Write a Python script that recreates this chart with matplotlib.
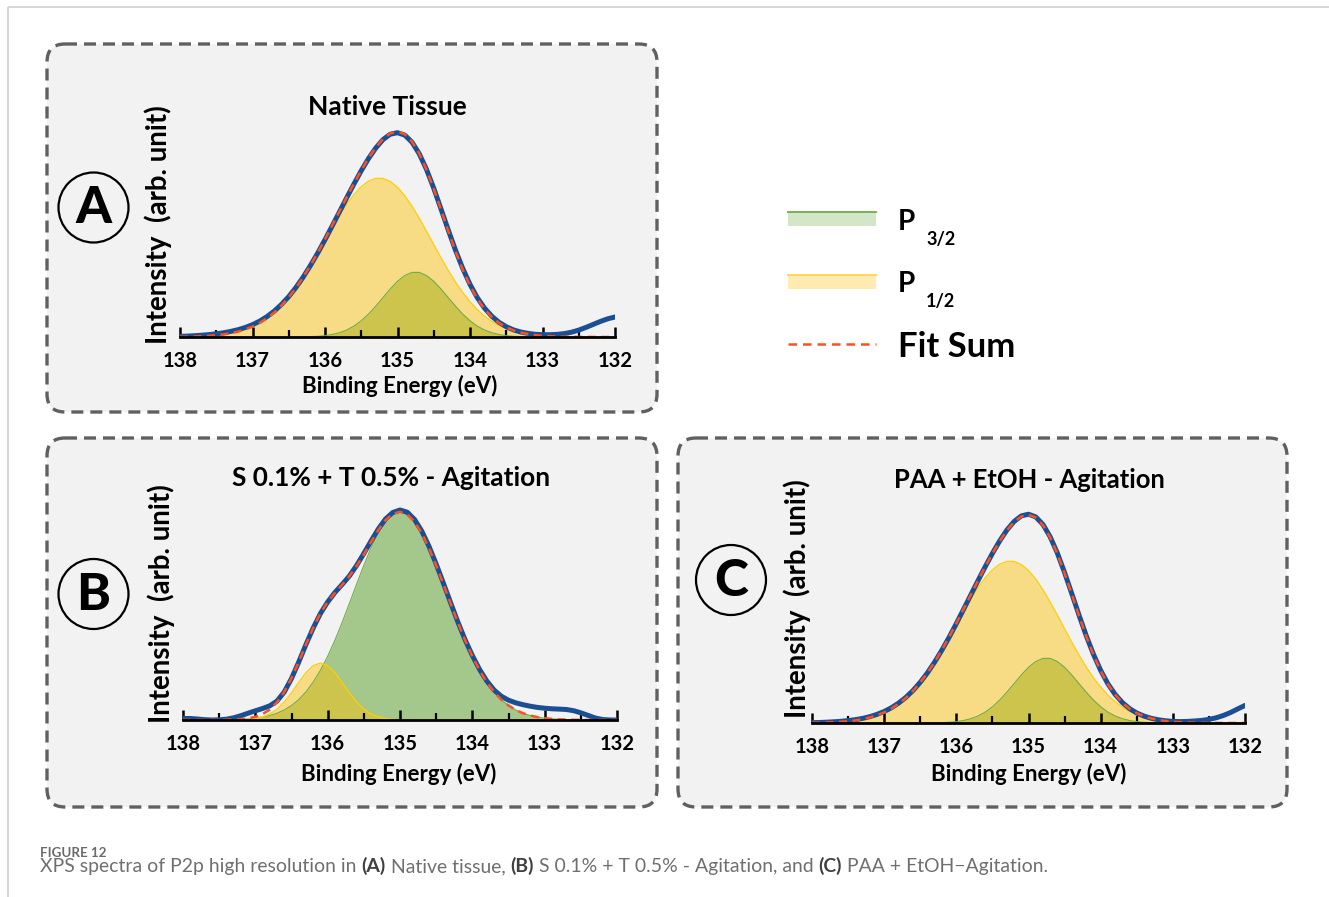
import numpy as np
import matplotlib
matplotlib.use("Agg")
import matplotlib.pyplot as plt
from matplotlib.patches import FancyBboxPatch, Circle, Rectangle

W, H, DPI = 1329, 897, 100

# Binding-energy sampling (eV), 0.1 eV steps from 138 down to 132
energy = np.linspace(138.0, 132.0, 61)

# ---- (A) Native Tissue ----
a_data = [0.6, 0.9, 1.3, 1.8, 2.4, 3.2, 4.2, 5.6, 7.3, 9.5,
          12.3, 15.9, 20.4, 25.9, 32.6, 40.4, 49.6, 60.0, 71.6, 84.0,
          97.3, 111.1, 125.2, 139.3, 153.1, 166.3, 178.4, 189.0, 197.4, 202.8,
          204.3, 201.9, 194.8, 183.2, 167.6, 148.7, 128.0, 107.0, 86.8, 68.5,
          52.6, 39.4, 28.9, 20.8, 14.7, 10.3, 7.1, 5.0, 3.6, 2.7,
          2.3, 2.3, 2.6, 3.4, 4.8, 6.9, 9.6, 12.6, 15.6, 18.2, 20.0]
a_p32 = [0.0, 0.0, 0.0, 0.0, 0.0, 0.0, 0.0, 0.0, 0.0, 0.0,
         0.0, 0.0, 0.0, 0.0, 0.0, 0.0, 0.1, 0.2, 0.4, 0.7,
         1.4, 2.5, 4.3, 7.0, 10.9, 16.2, 22.9, 30.8, 39.4, 48.0,
         55.7, 61.5, 64.6, 64.6, 61.5, 55.7, 48.0, 39.4, 30.8, 22.9,
         16.2, 10.9, 7.0, 4.3, 2.5, 1.4, 0.7, 0.4, 0.2, 0.1,
         0.0, 0.0, 0.0, 0.0, 0.0, 0.0, 0.0, 0.0, 0.0, 0.0, 0.0]
a_p12 = [0.2, 0.3, 0.5, 0.8, 1.2, 1.8, 2.6, 3.8, 5.4, 7.6,
         10.4, 14.1, 18.8, 24.5, 31.5, 39.7, 49.1, 59.7, 71.3, 83.6,
         96.4, 109.2, 121.5, 132.8, 142.6, 150.4, 155.9, 158.7, 158.6, 155.6,
         149.7, 141.3, 130.8, 118.8, 105.8, 92.4, 79.2, 66.6, 54.9, 44.4,
         35.2, 27.4, 20.9, 15.7, 11.5, 8.3, 5.9, 4.1, 2.8, 1.8,
         1.2, 0.8, 0.5, 0.3, 0.2, 0.1, 0.1, 0.0, 0.0, 0.0, 0.0]
a_fit = [0.2, 0.3, 0.5, 0.8, 1.2, 1.8, 2.6, 3.8, 5.4, 7.6,
         10.4, 14.1, 18.8, 24.5, 31.5, 39.7, 49.2, 59.9, 71.7, 84.3,
         97.8, 111.7, 125.8, 139.8, 153.5, 166.6, 178.8, 189.5, 198.0, 203.6,
         205.4, 202.8, 195.4, 183.4, 167.3, 148.1, 127.2, 106.0, 85.7, 67.3,
         51.4, 38.3, 27.9, 20.0, 14.0, 9.7, 6.6, 4.5, 3.0, 1.9,
         1.2, 0.8, 0.5, 0.3, 0.2, 0.1, 0.1, 0.0, 0.0, 0.0, 0.0]

# ---- (B) S 0.1% + T 0.5% - Agitation ----
b_data = [1.5, 1.5, 1.0, 0.3, 0.0, 0.2, 0.8, 2.2, 4.3, 6.8,
          9.2, 11.5, 14.2, 19.0, 28.0, 41.5, 58.0, 75.5, 92.0, 106.5,
          118.0, 127.5, 135.5, 144.0, 154.5, 166.5, 179.0, 191.0, 201.0, 207.5,
          210.0, 207.8, 200.6, 189.0, 173.8, 156.0, 136.8, 117.2, 98.0, 80.2,
          64.5, 50.5, 39.0, 30.0, 23.8, 19.8, 17.2, 15.3, 13.8, 12.6,
          11.8, 11.2, 10.9, 10.5, 9.3, 7.2, 4.6, 2.0, 0.5, 0.0, 0.0]
b_p32 = [0.0, 0.0, 0.0, 0.0, 0.0, 0.1, 0.2, 0.4, 0.7, 1.1,
         1.8, 2.9, 4.5, 6.8, 10.0, 14.5, 20.4, 28.1, 37.8, 49.7,
         63.7, 79.7, 97.5, 116.5, 135.8, 154.7, 172.1, 187.0, 198.4, 205.5,
         208.0, 205.5, 198.4, 187.0, 172.1, 154.7, 135.8, 116.5, 97.5, 79.7,
         63.7, 49.7, 37.8, 28.1, 20.4, 14.5, 10.0, 6.8, 4.5, 2.9,
         1.8, 1.1, 0.7, 0.4, 0.2, 0.1, 0.0, 0.0, 0.0, 0.0, 0.0]
b_p12 = [0.0, 0.0, 0.0, 0.0, 0.0, 0.0, 0.0, 0.1, 0.2, 0.6,
         1.4, 3.0, 6.0, 10.9, 18.1, 27.3, 37.7, 47.4, 54.4, 57.0,
         54.4, 47.4, 37.7, 27.3, 18.1, 10.9, 6.0, 3.0, 1.4, 0.6,
         0.2, 0.1, 0.0, 0.0, 0.0, 0.0, 0.0, 0.0, 0.0, 0.0,
         0.0, 0.0, 0.0, 0.0, 0.0, 0.0, 0.0, 0.0, 0.0, 0.0,
         0.0, 0.0, 0.0, 0.0, 0.0, 0.0, 0.0, 0.0, 0.0, 0.0, 0.0]
b_fit = [0.0, 0.0, 0.0, 0.0, 0.0, 0.1, 0.2, 0.5, 0.9, 1.7,
         3.2, 5.9, 10.5, 17.7, 28.1, 41.8, 58.1, 75.5, 92.2, 106.7,
         118.1, 127.1, 135.2, 143.8, 153.9, 165.6, 178.1, 190.0, 199.8, 206.1,
         208.2, 205.6, 198.4, 187.0, 172.1, 154.7, 135.8, 116.5, 97.5, 79.7,
         63.7, 49.7, 37.8, 28.1, 20.4, 14.5, 10.0, 6.8, 4.5, 2.9,
         1.8, 1.1, 0.7, 0.4, 0.2, 0.1, 0.0, 0.0, 0.0, 0.0, 0.0]

# ---- (C) PAA + EtOH - Agitation ----
c_data = [0.3, 0.5, 0.8, 1.2, 1.7, 2.4, 3.3, 4.6, 6.3, 8.6,
          11.5, 15.2, 19.9, 25.6, 32.5, 40.7, 50.2, 61.0, 72.9, 85.7,
          99.4, 113.6, 128.0, 142.3, 156.3, 169.6, 182.0, 192.9, 201.5, 207.1,
          208.8, 206.1, 198.5, 186.2, 169.9, 150.4, 129.3, 107.9, 87.3, 68.7,
          52.6, 39.2, 28.6, 20.5, 14.4, 10.0, 6.9, 4.7, 3.2, 2.2,
          1.6, 1.4, 1.6, 2.0, 2.6, 3.6, 5.2, 7.5, 10.5, 14.1, 17.6]
c_p32 = [0.0, 0.0, 0.0, 0.0, 0.0, 0.0, 0.0, 0.0, 0.0, 0.0,
         0.0, 0.0, 0.0, 0.0, 0.0, 0.0, 0.1, 0.2, 0.4, 0.7,
         1.4, 2.5, 4.3, 7.0, 10.9, 16.2, 22.9, 30.8, 39.4, 48.0,
         55.7, 61.5, 64.6, 64.6, 61.5, 55.7, 48.0, 39.4, 30.8, 22.9,
         16.2, 10.9, 7.0, 4.3, 2.5, 1.4, 0.7, 0.4, 0.2, 0.1,
         0.0, 0.0, 0.0, 0.0, 0.0, 0.0, 0.0, 0.0, 0.0, 0.0, 0.0]
c_p12 = [0.2, 0.3, 0.5, 0.8, 1.2, 1.8, 2.6, 3.9, 5.5, 7.7,
         10.6, 14.4, 19.2, 25.0, 32.1, 40.5, 50.0, 60.8, 72.6, 85.2,
         98.2, 111.3, 123.8, 135.3, 145.3, 153.2, 158.8, 161.7, 161.6, 158.5,
         152.5, 144.0, 133.3, 121.0, 107.8, 94.1, 80.7, 67.9, 55.9, 45.2,
         35.9, 27.9, 21.3, 16.0, 11.7, 8.5, 6.0, 4.2, 2.9, 1.8,
         1.2, 0.8, 0.5, 0.3, 0.2, 0.1, 0.1, 0.0, 0.0, 0.0, 0.0]
c_fit = [0.2, 0.3, 0.5, 0.8, 1.2, 1.8, 2.6, 3.9, 5.5, 7.7,
         10.6, 14.4, 19.2, 25.0, 32.1, 40.5, 50.1, 61.0, 73.0, 85.9,
         99.6, 113.8, 128.1, 142.3, 156.2, 169.4, 181.7, 192.5, 201.0, 206.5,
         208.2, 205.5, 197.9, 185.6, 169.3, 149.8, 128.7, 107.3, 86.7, 68.1,
         52.1, 38.8, 28.3, 20.3, 14.2, 9.9, 6.7, 4.6, 3.1, 1.9,
         1.2, 0.8, 0.5, 0.3, 0.2, 0.1, 0.1, 0.0, 0.0, 0.0, 0.0]

titles = ["Native Tissue", "S 0.1% + T 0.5% - Agitation", "PAA + EtOH - Agitation"]
letters = ["A", "B", "C"]
major_ticks = [138, 137, 136, 135, 134, 133, 132]
minor_ticks = [137.5, 136.5, 135.5, 134.5, 133.5, 132.5]
legend_labels = [("P", "3/2"), ("P", "1/2"), ("Fit Sum", None)]
caption_head = "FIGURE 12"
caption_parts = [("XPS spectra of P2p high resolution in", False),
                 ("(A)", True), ("Native tissue,", False),
                 ("(B)", True), ("S 0.1% + T 0.5% - Agitation, and", False),
                 ("(C)", True), ("PAA + EtOH\u2212Agitation.", False)]

# ---- styling ----
FONT = ["Lato", "DejaVu Sans"]
plt.rcParams["font.family"] = FONT
BLUE = "#1b4f93"
RED = "#ff5020"
GREEN = "#70ad47"
YELLOW = "#ffc000"
PANEL_BG = "#f2f2f2"

fig = plt.figure(figsize=(W / DPI, H / DPI), dpi=DPI)
fig.patch.set_facecolor("white")

# full-figure pixel-space layer for frames, badges, legend and caption
deco = fig.add_axes([0, 0, 1, 1], zorder=0)
deco.set_xlim(0, W)
deco.set_ylim(H, 0)
deco.axis("off")

# page edge rules
deco.plot([7.5, W], [7.5, 7.5], color="#d6d6d6", lw=1.4, solid_capstyle="butt")
deco.plot([7.5, 7.5], [7.5, H], color="#d6d6d6", lw=1.4, solid_capstyle="butt")

panels = [
    dict(box=(47, 44, 657, 412), ax=(180, 615, 337), data=a_data, p32=a_p32, p12=a_p12, fit=a_fit,
         title_xy=(387, 115), title_w=159, ylab_xy=(158, 225), xlab_xy=(400, 393), circ=(93.5, 207.5)),
    dict(box=(47, 438, 657, 807), ax=(183, 617, 720), data=b_data, p32=b_p32, p12=b_p12, fit=b_fit,
         title_xy=(391, 486), title_w=318, ylab_xy=(161, 604), xlab_xy=(399, 781), circ=(93.5, 594)),
    dict(box=(678, 438, 1287, 807), ax=(812, 1245, 723), data=c_data, p32=c_p32, p12=c_p12, fit=c_fit,
         title_xy=(1029, 488), title_w=271, ylab_xy=(797, 599), xlab_xy=(1029, 781), circ=(731, 580)),
]

AX_H = 215
texts_to_fit = []

for i, p in enumerate(panels):
    x0, y0, x1, y1 = p["box"]
    frame = FancyBboxPatch((x0, y0), x1 - x0, y1 - y0,
                           boxstyle="round,pad=0,rounding_size=18",
                           facecolor=PANEL_BG, edgecolor="#606060", lw=2.4,
                           linestyle=(0, (3.6, 2.1)))
    deco.add_patch(frame)

    left, right, base = p["ax"]
    ax = fig.add_axes([left / W, 1 - base / H, (right - left) / W, AX_H / H], zorder=2)
    ax.set_facecolor("none")
    ax.fill_between(energy, 0, p["p32"], color=GREEN, alpha=0.6, lw=0)
    ax.plot(energy, p["p32"], color=GREEN, lw=0.8)
    ax.fill_between(energy, 0, p["p12"], color=YELLOW, alpha=0.45, lw=0)
    ax.plot(energy, p["p12"], color="#ffd000", lw=0.9)
    ax.plot(energy, p["data"], color=BLUE, lw=3.6, solid_capstyle="round")
    ax.plot(energy, p["fit"], color=RED, lw=1.8, dashes=(3.2, 2.2))
    ax.set_xlim(138, 132)
    ax.set_ylim(0, AX_H)
    ax.set_xticks(major_ticks)
    ax.set_xticks(minor_ticks, minor=True)
    ax.set_xticklabels([str(t) for t in major_ticks], fontweight="bold")
    ax.set_yticks([])
    for s in ("left", "top", "right"):
        ax.spines[s].set_visible(False)
    ax.spines["bottom"].set_linewidth(2.0)
    ax.tick_params(axis="x", which="major", direction="in", length=7, width=1.8,
                   pad=10, labelsize=14.5, colors="black")
    ax.tick_params(axis="x", which="minor", direction="in", length=5, width=1.6)

    tx, ty = p["title_xy"]
    t = deco.text(tx, ty, titles[i], ha="center", va="baseline", fontsize=18, fontweight="bold")
    texts_to_fit.append((t, p["title_w"], "w"))
    yx, yy = p["ylab_xy"]
    t = deco.text(yx, yy, "Intensity  (arb. unit)", ha="center", va="center", rotation=90,
                  fontsize=16, fontweight="bold")
    texts_to_fit.append((t, 238, "h"))
    lx, ly = p["xlab_xy"]
    t = deco.text(lx, ly, "Binding Energy (eV)", ha="center", va="baseline",
                  fontsize=13, fontweight="bold")
    texts_to_fit.append((t, 195, "w"))

    cx, cy = p["circ"]
    deco.add_patch(Circle((cx, cy), 35, facecolor="none", edgecolor="black", lw=1.6))
    deco.text(cx, cy + 1, letters[i], ha="center", va="center", fontsize=37, fontweight="black")

# ---- legend ----
deco.add_patch(Rectangle((788, 212), 88, 14, facecolor=GREEN, alpha=0.3, lw=0))
deco.plot([788, 876], [212, 212], color=GREEN, lw=1.3)
deco.add_patch(Rectangle((788, 275), 88, 14, facecolor=YELLOW, alpha=0.3, lw=0))
deco.plot([788, 876], [275, 275], color="#ffd54a", lw=1.3)
deco.plot([788, 876], [344, 344], color=RED, lw=1.8, dashes=(3.4, 2.4))

for (main, sub), yb in zip(legend_labels[:2], (230, 292)):
    deco.text(898, yb, main, ha="left", va="baseline", fontsize=20, fontweight="bold")
    deco.text(926, yb + 15, sub, ha="left", va="baseline", fontsize=13, fontweight="bold")
t = deco.text(898, 357, legend_labels[2][0], ha="left", va="baseline", fontsize=24, fontweight="bold")
texts_to_fit.append((t, 117, "w"))

# ---- caption ----
head = deco.text(40, 857, caption_head, ha="left", va="baseline", fontsize=10,
                 fontweight="bold", color="#6a6a6a")
texts_to_fit.append((head, 67, "w"))

# ---- size text to its layout box ----
fig.canvas.draw()
renderer = fig.canvas.get_renderer()
for _ in range(2):
    for t, target, dim in texts_to_fit:
        bb = t.get_window_extent(renderer)
        cur = bb.width if dim == "w" else bb.height
        if cur > 0:
            t.set_fontsize(t.get_fontsize() * target / cur)


def measure(s, size, weight):
    t = deco.text(0, 0, s, fontsize=size, fontweight=weight)
    w = t.get_window_extent(renderer).width
    t.remove()
    return w


def caption_width(size):
    sp = measure("x x", size, "normal") - measure("xx", size, "normal")
    total = 0.0
    for k, (s, bold) in enumerate(caption_parts):
        total += measure(s, size, "bold" if bold else "normal")
        if k < len(caption_parts) - 1:
            total += sp
    return total, sp


size = 11.0
for _ in range(2):
    tot, sp = caption_width(size)
    size *= 1006.0 / tot
tot, sp = caption_width(size)
xpos = 40.0
for k, (s, bold) in enumerate(caption_parts):
    w = measure(s, size, "bold" if bold else "normal")
    deco.text(xpos, 872, s, ha="left", va="baseline", fontsize=size,
              fontweight="bold" if bold else "normal",
              color="#404040" if bold else "#6f6f6f")
    xpos += w + sp

fig.savefig("out.png", dpi=DPI, facecolor="white")
